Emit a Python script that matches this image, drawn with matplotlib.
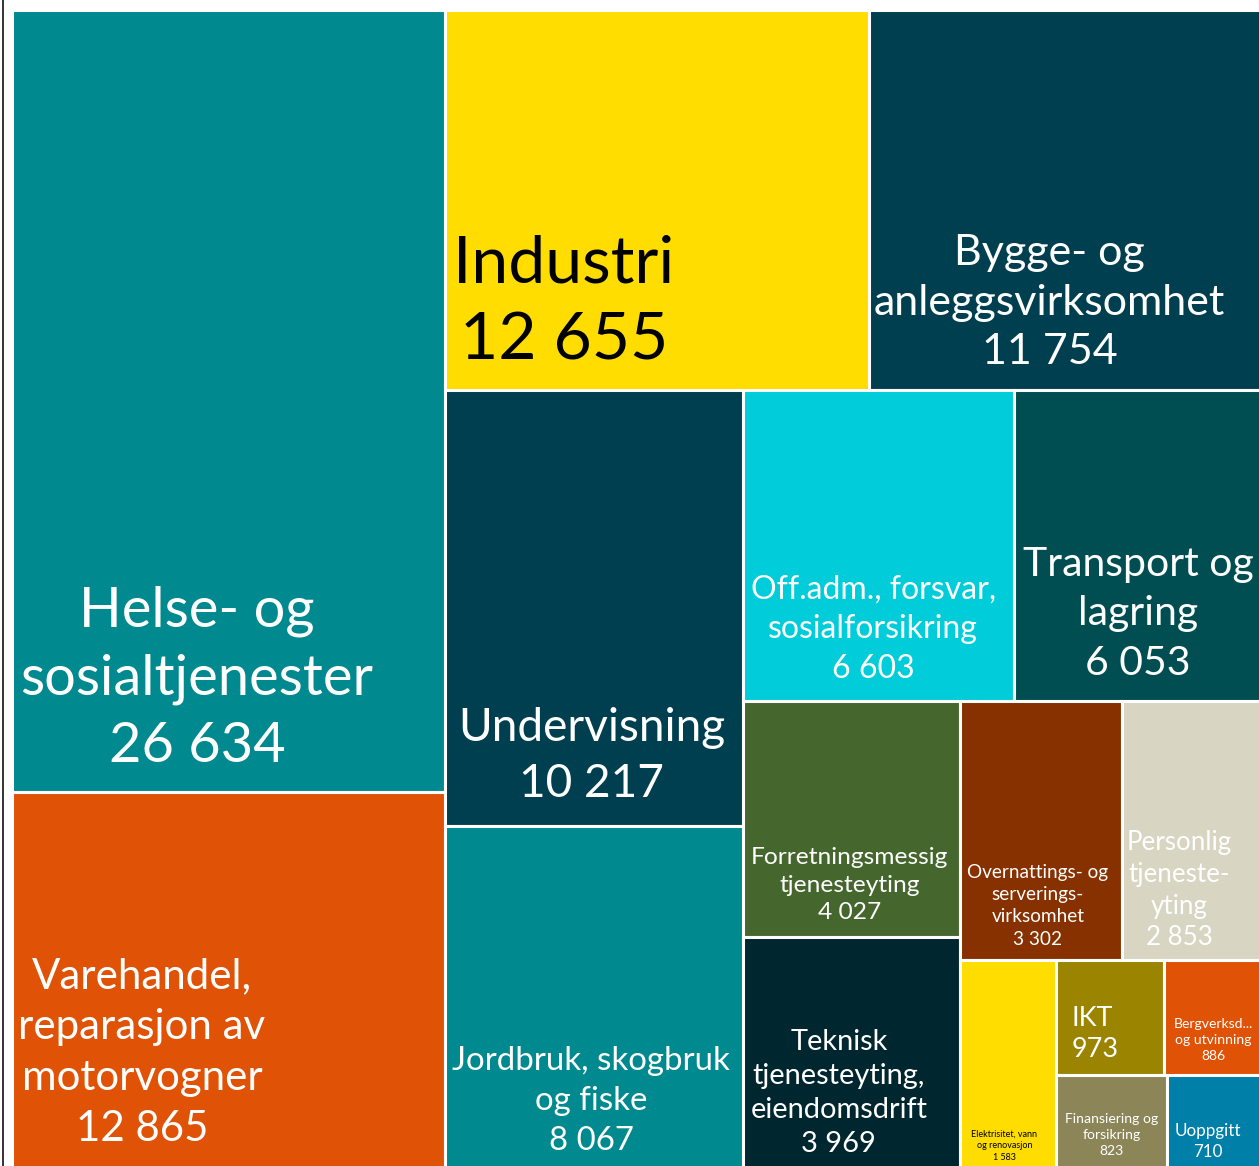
#!/usr/bin/env python3
"""Treemap: sysselsatte etter naering."""

import matplotlib

matplotlib.use("Agg")
import matplotlib.pyplot as plt
from matplotlib.lines import Line2D
from matplotlib.patches import Rectangle

plt.rcParams["font.family"] = ["Lato", "DejaVu Sans"]

NAMES = [
    "Helse- og\nsosialtjenester",
    "Varehandel,\nreparasjon av\nmotorvogner",
    "Industri",
    "Bygge- og\nanleggsvirksomhet",
    "Undervisning",
    "Jordbruk, skogbruk\nog fiske",
    "Off.adm., forsvar,\nsosialforsikring",
    "Transport og\nlagring",
    "Forretningsmessig\ntjenesteyting",
    "Teknisk\ntjenesteyting,\neiendomsdrift",
    "Overnattings- og\nserverings-\nvirksomhet",
    "Personlig\ntjeneste-\nyting",
    "Elektrisitet, vann\nog renovasjon",
    "IKT",
    "Bergverksd...\nog utvinning",
    "Finansiering og\nforsikring",
    "Uoppgitt",
]
VALUES = [26634, 12865, 12655, 11754, 10217, 8067, 6603, 6053, 4027, 3969,
          3302, 2853, 1583, 973, 886, 823, 710]
COLORS = [
    "#00898E", "#E05206", "#FFDD00", "#003F4F", "#003F50", "#00898E",
    "#00CCDA", "#004E51", "#45672E", "#00262F", "#873100", "#D8D5C2",
    "#FFDD00", "#9A8400", "#E05206", "#8C8558", "#007FA8",
]
# how many items go into each strip of the layout
GROUPS = [2, 2, 2, 2, 2, 2, 1, 2, 2]

# label style: (x frac, y frac, font px, text colour, line spacing, align)
LABEL_STYLE = [
    (0.427, 0.855, 56, "white", 1.40, "center"),
    (0.30, 0.69, 42, "white", 1.42, "center"),
    (0.28, 0.77, 66, "black", 1.37, "center"),
    (0.46, 0.77, 43, "white", 1.37, "center"),
    (0.49, 0.84, 46, "white", 1.40, "center"),
    (0.49, 0.80, 33, "white", 1.42, "center"),
    (0.48, 0.77, 32, "white", 1.42, "center"),
    (0.50, 0.72, 41, "white", 1.42, "center"),
    (0.49, 0.78, 24.5, "white", 1.37, "center"),
    (0.44, 0.67, 29, "white", 1.39, "center"),
    (0.48, 0.79, 19, "white", 1.37, "center"),
    (0.41, 0.73, 26, "white", 1.34, "center"),
    (0.46, 0.885, 9, "black", 1.42, "center"),
    (0.14, 0.64, 27, "white", 1.33, "left"),
    (0.50, 0.69, 14, "white", 1.40, "center"),
    (0.50, 0.63, 14, "white", 1.36, "center"),
    (0.43, 0.70, 17, "white", 1.34, "center"),
]

W, H = 1250.0, 1160.0


def squarish_layout(values, groups, x, y, w, h):
    rects = []
    remaining = float(sum(values))
    idx = 0
    for g in groups:
        vals = values[idx:idx + g]
        gsum = float(sum(vals))
        idx += g
        if idx == len(values):
            sx, sy, sw, sh = x, y, w, h
        elif w >= h:
            sw = w * gsum / remaining
            sx, sy, sh = x, y, h
            x += sw
            w -= sw
        else:
            sh = h * gsum / remaining
            sx, sy, sw = x, y, w
            y += sh
            h -= sh
        remaining -= gsum
        pos = 0.0
        for v in vals:
            if sh > sw:
                part = sh * v / gsum
                rects.append((sx, sy + pos, sw, part))
            else:
                part = sw * v / gsum
                rects.append((sx + pos, sy, part, sh))
            pos += part
    return rects


def fmt(v):
    return f"{v:,}".replace(",", " ")


def main():
    fig = plt.figure(figsize=(12.59, 11.66), dpi=100)
    ax = fig.add_axes([12 / 1259, -4 / 1166, W / 1259, H / 1166])
    ax.set_xlim(0, W)
    ax.set_ylim(H, 0)
    ax.axis("off")

    rects = squarish_layout(VALUES, GROUPS, 0, 0, W, H)
    for (rx, ry, rw, rh), name, val, col, style in zip(rects, NAMES, VALUES, COLORS, LABEL_STYLE):
        ax.add_patch(Rectangle((rx, ry), rw, rh, facecolor=col, edgecolor="white", linewidth=2.2))
        fx, fy, px, tcol, ls, ha = style
        ax.text(
            rx + fx * rw,
            ry + fy * rh,
            f"{name}\n{fmt(val)}",
            ha=ha,
            va="center",
            multialignment=ha,
            fontsize=px * 0.72,
            color=tcol,
            linespacing=ls,
        )

    fig.add_artist(Line2D([3 / 1259, 3 / 1259], [0, 1], color="#333333", linewidth=1.4))
    fig.savefig("out.png", dpi=100)
    plt.close(fig)


if __name__ == "__main__":
    main()
